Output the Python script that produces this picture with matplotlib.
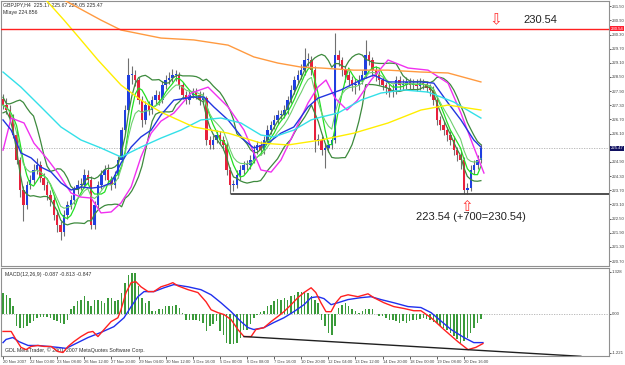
import numpy as np
import pandas as pd
import matplotlib
matplotlib.use("Agg")
import matplotlib.pyplot as plt
import matplotlib.transforms as mtransforms

plt.rcParams['font.family'] = ['Liberation Sans', 'DejaVu Sans']

# ---- candles (GBPJPY H4), one value per bar ----
opens = [227.55, 227.31, 227.10, 226.76, 226.04, 224.98, 223.71, 223.07, 223.92, 224.13,
         224.56, 224.77, 224.22, 223.92, 223.50, 223.29, 222.65, 222.23, 221.93, 222.65,
         223.07, 223.29, 223.71, 223.92, 223.92, 224.35, 224.13, 222.23, 223.07, 223.92,
         224.35, 224.56, 224.13, 223.92, 224.35, 224.98, 226.25, 227.10, 228.58, 228.58,
         228.37, 227.52, 226.68, 227.31, 227.10, 227.52, 227.73, 227.52, 228.16, 228.37,
         228.46, 228.58, 228.58, 228.16, 227.73, 227.52, 227.73, 227.86, 227.73, 227.52,
         227.61, 225.83, 225.62, 225.83, 226.04, 225.83, 225.62, 224.56, 223.92, 223.92,
         224.35, 224.56, 224.77, 224.77, 224.98, 225.40, 225.62, 225.40, 225.83, 226.25,
         226.46, 226.68, 226.89, 226.89, 227.10, 227.52, 227.95, 228.37, 228.58, 228.79,
         229.22, 229.22, 228.79, 225.83, 225.83, 225.40, 225.49, 225.62, 225.83, 229.43,
         229.22, 228.79, 228.58, 228.37, 228.16, 228.16, 228.37, 228.58, 229.43, 229.22,
         228.79, 228.58, 228.37, 228.16, 228.03, 227.86, 227.95, 228.37, 228.16, 228.16,
         228.29, 228.16, 228.20, 228.12, 228.24, 228.20, 228.03, 227.95, 227.52, 226.68,
         226.46, 226.25, 226.04, 225.83, 225.40, 225.19, 224.98, 223.71, 223.79, 224.56,
         224.77, 224.98]
closes = [227.31, 227.10, 226.76, 226.04, 224.98, 223.71, 223.07, 223.92, 224.13, 224.56,
          224.77, 224.22, 223.92, 223.50, 223.29, 222.65, 222.23, 221.93, 222.65, 223.07,
          223.29, 223.71, 223.92, 223.92, 224.35, 224.13, 222.23, 223.07, 223.92, 224.35,
          224.56, 224.13, 223.92, 224.35, 224.98, 226.25, 227.10, 228.58, 228.58, 228.37,
          227.52, 226.68, 227.31, 227.10, 227.52, 227.73, 227.52, 228.16, 228.37, 228.46,
          228.58, 228.58, 228.16, 227.73, 227.52, 227.73, 227.86, 227.73, 227.52, 227.61,
          225.83, 225.62, 225.83, 226.04, 225.83, 225.62, 224.56, 223.92, 223.92, 224.35,
          224.56, 224.77, 224.77, 224.98, 225.40, 225.62, 225.40, 225.83, 226.25, 226.46,
          226.68, 226.89, 226.89, 227.10, 227.52, 227.95, 228.37, 228.58, 228.79, 229.22,
          229.22, 228.79, 225.83, 225.83, 225.40, 225.49, 225.62, 225.83, 229.43, 229.22,
          228.79, 228.58, 228.37, 228.16, 228.16, 228.37, 228.58, 229.43, 229.22, 228.79,
          228.58, 228.37, 228.16, 228.03, 227.86, 227.95, 228.37, 228.16, 228.16, 228.29,
          228.16, 228.20, 228.12, 228.24, 228.20, 228.03, 227.95, 227.52, 226.68, 226.46,
          226.25, 226.04, 225.83, 225.40, 225.19, 224.98, 223.71, 223.79, 224.56, 224.77,
          224.98, 225.49]
highs = [227.80, 227.62, 227.30, 226.95, 226.20, 225.10, 223.90, 224.10, 224.35, 224.80,
         225.05, 224.95, 224.45, 224.10, 223.70, 223.45, 222.85, 222.40, 222.85, 223.25,
         223.50, 223.90, 224.15, 224.20, 224.60, 224.55, 224.30, 223.25, 224.10, 224.55,
         224.75, 224.80, 224.30, 224.50, 225.15, 226.40, 227.30, 229.30, 228.95, 228.80,
         228.50, 227.70, 227.50, 227.50, 227.70, 227.95, 227.90, 228.35, 228.60, 228.70,
         228.85, 228.80, 228.70, 228.30, 227.90, 227.90, 228.05, 228.05, 227.90, 227.85,
         227.70, 226.00, 226.05, 226.25, 226.20, 226.00, 225.80, 224.70, 224.15, 224.55,
         224.75, 224.95, 225.00, 225.20, 225.60, 225.80, 225.80, 226.00, 226.45, 226.65,
         226.90, 227.10, 227.10, 227.30, 227.70, 228.15, 228.55, 228.80, 229.05, 229.73,
         229.50, 229.40, 228.95, 226.10, 226.00, 225.70, 225.85, 226.00, 230.36, 229.65,
         229.35, 228.95, 228.75, 228.55, 228.45, 228.60, 228.80, 230.06, 229.60, 229.35,
         228.95, 228.75, 228.50, 228.30, 228.20, 228.20, 228.55, 228.55, 228.40, 228.50,
         228.45, 228.40, 228.40, 228.45, 228.40, 228.35, 228.20, 228.10, 227.70, 226.85,
         226.65, 226.40, 226.20, 226.00, 225.55, 225.35, 225.10, 224.00, 224.75, 225.00,
         225.20, 225.67]
lows = [227.15, 226.95, 226.60, 225.90, 224.80, 223.40, 222.40, 222.90, 223.75, 223.95,
        224.40, 224.05, 223.70, 223.30, 223.05, 222.45, 221.95, 221.60, 221.75, 222.50,
        222.90, 223.10, 223.55, 223.70, 223.80, 223.95, 222.05, 222.05, 222.95, 223.75,
        224.15, 223.95, 223.70, 223.80, 224.20, 224.85, 226.10, 226.95, 228.20, 228.10,
        227.35, 226.40, 226.50, 226.90, 226.95, 227.35, 227.30, 227.40, 228.00, 228.20,
        228.30, 228.35, 228.00, 227.55, 227.35, 227.35, 227.60, 227.55, 227.30, 227.35,
        225.60, 225.45, 225.45, 225.70, 225.65, 225.40, 224.35, 223.54, 223.65, 223.80,
        224.15, 224.40, 224.55, 224.60, 224.85, 225.25, 225.20, 225.25, 225.70, 226.10,
        226.30, 226.50, 226.70, 226.75, 226.95, 227.40, 227.80, 228.20, 228.40, 228.60,
        228.95, 228.60, 225.30, 225.60, 225.20, 224.65, 225.30, 225.45, 225.70, 228.95,
        228.55, 228.30, 228.10, 227.90, 227.80, 227.95, 228.20, 228.45, 229.00, 228.55,
        228.35, 228.15, 227.95, 227.80, 227.65, 227.65, 227.80, 227.95, 227.95, 228.00,
        227.95, 228.00, 227.90, 227.95, 228.00, 227.85, 227.70, 227.30, 226.45, 226.25,
        226.05, 225.80, 225.60, 225.20, 224.95, 224.60, 223.54, 223.54, 223.65, 224.40,
        224.60, 224.85]

# ---- moving averages (bar index, price) ----
yellow_x = [0, 12.7, 18.0, 23.0, 28.0, 34.8, 40.7, 46.6, 56.3, 66.4, 76.1, 84.1, 93.8, 103.5, 113.6, 123.3, 131.3, 141.0]
yellow_y = [233.75, 231.76, 230.91, 230.07, 229.22, 228.16, 227.52, 227.01, 226.38, 226.12, 225.70, 225.62,
            225.83, 226.12, 226.55, 227.10, 227.31, 227.10]
orange_x = [0, 18.0, 28.9, 34.8, 46.6, 56.3, 66.4, 74.0, 81.1, 87.9, 93.8, 103.5, 113.6, 123.3, 131.3, 141.0]
orange_y = [233.67, 231.76, 230.91, 230.49, 230.15, 230.07, 229.85, 229.35, 229.09, 228.92, 228.88, 228.79,
            228.79, 228.71, 228.67, 228.29]
cyan_x = [0, 5.3, 11.2, 17.1, 23.0, 28.9, 34.8, 40.7, 46.6, 52.5, 58.4, 64.3, 70.2, 76.1, 79.9, 85.8, 90.9,
          93.8, 98.8, 105.6, 111.5, 118.3, 125.4, 133.0, 141.0]
cyan_y = [228.71, 228.07, 227.23, 226.38, 225.83, 225.49, 225.11, 225.53, 225.91, 226.25, 226.68, 226.76,
          226.55, 226.04, 225.96, 226.25, 226.68, 226.80, 226.97, 227.52, 227.82, 227.95, 227.86, 227.44, 226.76]
blue_x = [0, 2.4, 5.3, 8.3, 11.2, 14.2, 17.1, 20.1, 23.0, 26.0, 28.9, 31.9, 34.8, 37.8, 40.7, 43.7, 46.6,
          50.4, 56.3, 59.3, 62.2, 66.4, 71.1, 74.0, 78.2, 82.0, 85.8, 90.0, 92.9, 99.7, 105.6, 109.4, 113.6,
          117.4, 123.3, 127.1, 131.3, 135.1, 138.9, 141.0]
blue_y = [226.68, 226.25, 225.28, 225.07, 224.68, 224.47, 224.01, 223.71, 223.84, 223.79, 223.84, 224.01,
          224.85, 225.53, 225.96, 226.25, 226.89, 227.52, 227.65, 227.65, 227.23, 226.68, 225.83, 225.49,
          225.70, 226.12, 226.38, 227.23, 227.60, 227.95, 228.37, 228.58, 228.29, 228.29, 228.29, 228.24,
          227.40, 226.68, 225.83, 225.53]
magenta_x = [0, 2.4, 6.2, 9.1, 13.3, 16.2, 20.1, 23.0, 26.0, 28.9, 31.9, 34.8, 37.8, 40.7, 43.7, 46.6, 50.4,
             55.5, 60.5, 66.4, 71.1, 74.0, 76.1, 79.1, 82.0, 85.8, 90.0, 92.9, 95.3, 98.0, 101.5, 104.5,
             108.6, 113.6, 119.5, 125.4, 131.3, 135.1, 138.9, 141.9]
magenta_y = [225.40, 226.76, 226.55, 225.70, 224.98, 224.43, 223.58, 223.41, 223.37, 222.74, 222.78, 223.16,
             223.84, 225.11, 226.12, 226.63, 226.97, 227.82, 228.07, 227.23, 226.25, 225.28, 224.56, 224.47,
             224.98, 226.12, 227.40, 228.07, 228.37, 227.60, 227.10, 227.50, 228.37, 229.22, 228.88, 228.79,
             228.24, 226.97, 225.53, 224.43]

# ---- MACD panel ----
macd_hist = [0.66, 0.60, 0.50, 0.24, -0.39, -0.44, -0.44, -0.39, -0.28, -0.23,
             -0.13, -0.09, -0.09, -0.09, -0.13, -0.18, -0.23, -0.28, -0.33, -0.18,
             0.14, 0.24, 0.40, 0.45, 0.55, 0.40, 0.24, 0.45, 0.45, 0.40,
             0.34, 0.50, 0.50, 0.40, 0.45, 0.66, 0.97, 1.23, 1.28, 1.28,
             0.86, 0.50, 0.34, 0.40, 0.08, 0.08, 0.14, 0.14, 0.24, 0.24,
             0.24, 0.29, 0.19, 0.03, -0.18, -0.18, -0.18, -0.18, -0.23,
             -0.28, -0.54, -0.39, -0.33, -0.23, -0.54, -0.65, -0.90, -0.95, -0.95,
             -0.90, -0.75, -0.49, -0.49, -0.33, -0.13, -0.02, 0.05, 0.08, 0.24,
             0.29, 0.40, 0.47, 0.45, 0.50, 0.45, 0.55, 0.60, 0.69, 0.69,
             0.69, 0.66, 0.55, 0.45, 0.34, -0.18, -0.39, -0.59, -0.65, -0.39,
             0.19, 0.29, 0.34, 0.24, 0.14, 0.08, 0.03, 0.08, 0.14, 0.14,
             0.14, 0.00, -0.05, -0.05, -0.13, -0.18, -0.18, -0.23, -0.28, -0.23,
             -0.28, -0.23, -0.18, -0.18, -0.16, -0.13,
             -0.15, -0.20, -0.25, -0.30, -0.38, -0.45, -0.50, -0.60, -0.70, -0.80,
             -0.90, -0.85, -0.75, -0.60, -0.45, -0.30, -0.15]
macd_red_x = [0, 2.4, 3.8, 5.3, 6.8, 8.3, 10.3, 12.1, 14.2, 16.2, 17.7, 19.2, 20.9, 23.0, 25.1, 26.5, 28.0,
              29.8, 31.9, 33.9, 34.8, 36.3, 37.8, 39.2, 40.7, 42.8, 44.5, 46.6, 48.7, 50.1, 51.6, 54.6, 57.5,
              59.9, 61.4, 63.4, 65.2, 67.3, 69.3, 71.1, 73.2, 74.6, 77.0, 79.1, 81.1, 82.9, 85.0, 87.0, 88.8,
              90.9, 92.3, 93.8, 95.3, 96.8, 98.2, 99.7, 101.8, 104.7, 107.7, 109.4, 112.4, 115.3, 118.3, 121.2,
              123.3, 126.3, 130.1, 134.2, 137.2, 139.5, 141.6]
macd_red_y = [-0.55, -0.55, -0.80, -1.05, -1.12, -1.02, -0.99, -1.02, -1.02, -1.18, -1.21, -1.02, -0.87,
              -0.71, -0.58, -0.55, -0.71, -0.49, -0.24, -0.12, 0.13, 0.67, 0.98, 1.01, 0.85, 0.70, 0.70, 0.85,
              0.92, 0.98, 0.88, 0.76, 0.67, 0.38, 0.13, 0.04, -0.02, -0.18, -0.49, -0.71, -0.71, -0.49, -0.43,
              -0.24, -0.08, 0.07, 0.29, 0.51, 0.67, 0.82, 0.67, 0.35, 0.07, 0.07, 0.35, 0.54, 0.60, 0.54, 0.63,
              0.51, 0.35, 0.23, 0.17, 0.10, 0.10, -0.12, -0.49, -0.87, -1.12, -1.05, -0.93]
macd_blue_x = [0, 0.9, 2.9, 4.7, 7.4, 10.3, 13.3, 16.2, 18.6, 20.9, 25.1, 28.9, 32.7, 35.7, 37.8, 39.8, 41.6,
               44.5, 47.5, 50.4, 54.6, 58.4, 61.4, 64.3, 67.3, 70.2, 72.3, 74.0, 77.0, 79.9, 82.9, 85.8, 88.8,
               90.9, 92.9, 94.7, 96.8, 98.8, 101.8, 105.6, 108.6, 111.5, 115.3, 119.5, 123.3, 126.3, 132.2,
               136.0, 138.9, 141.6]
macd_blue_y = [-0.90, -0.80, -0.74, -0.87, -0.99, -0.99, -1.02, -1.05, -1.08, -0.96, -0.74, -0.58, -0.40,
               -0.12, 0.23, 0.54, 0.70, 0.70, 0.82, 0.92, 0.85, 0.76, 0.60, 0.35, 0.07, -0.24, -0.43, -0.49,
               -0.43, -0.27, -0.12, 0.07, 0.29, 0.51, 0.54, 0.48, 0.29, 0.35, 0.45, 0.51, 0.54, 0.45, 0.35,
               0.23, 0.20, 0.04, -0.49, -0.74, -0.90, -0.90]

date_labels = ["20 Nov 2007", "22 Nov 00:00", "23 Nov 08:00", "26 Nov 12:00", "27 Nov 20:00",
               "29 Nov 04:00", "30 Nov 12:00", "3 Dec 16:00", "5 Dec 00:00", "6 Dec 08:00",
               "7 Dec 16:00", "10 Dec 20:00", "12 Dec 04:00", "13 Dec 12:00", "14 Dec 20:00",
               "18 Dec 00:00", "19 Dec 08:00", "20 Dec 16:00"]
price_ticks = [231.50, 230.90, 230.30, 229.70, 229.10, 228.50, 227.90, 227.30, 226.70, 226.10,
               225.50, 224.90, 224.30, 223.70, 223.10, 222.50, 221.90, 221.30, 220.70]

level_high = 230.54
level_low = 223.54
last_price = 225.47

W, H = 625, 365
fig = plt.figure(figsize=(W / 100, H / 100), dpi=100)
fig.patch.set_facecolor('white')


def px_axes(left, top, right, bottom):
    return fig.add_axes([left / W, 1 - bottom / H, (right - left) / W, (bottom - top) / H])


ax = px_axes(1, 1, 609, 266)
ax2 = px_axes(1, 268, 609, 356)

n = len(closes)
x = np.arange(n)
o = np.array(opens)
c = np.array(closes)
xlim = (-0.6, 178.8)

# candles
ax.vlines(x, lows, highs, color='#707070', lw=0.8, zorder=3)
up = c >= o
body_lo = np.minimum(o, c)
body_h = np.maximum(np.abs(c - o), 0.03)
ax.bar(x[up], body_h[up], bottom=body_lo[up], width=0.72, color='#1f3fe0', zorder=4, lw=0)
ax.bar(x[~up], body_h[~up], bottom=body_lo[~up], width=0.72, color='#e8203c', zorder=4, lw=0)

# moving averages
s = pd.Series(closes)
mid = s.rolling(10, min_periods=1).mean()
sd = s.rolling(10, min_periods=2).std().fillna(0.3)
ax.plot(x, mid + 1.1 * sd, color='#3d8a3d', lw=0.9, zorder=5)
ax.plot(x, mid - 1.1 * sd, color='#3d8a3d', lw=0.9, zorder=5)
ax.plot(x, s.rolling(5, min_periods=1).mean(), color='#22e022', lw=0.9, zorder=5)
ax.plot(x, s.ewm(span=8).mean(), color='#6fcf6f', lw=0.8, zorder=5)
ax.plot(magenta_x, magenta_y, color='#f030f0', lw=1.0, zorder=5)
ax.plot(blue_x, blue_y, color='#2236e0', lw=1.0, zorder=5)
ax.plot(cyan_x, cyan_y, color='#33e0e8', lw=1.0, zorder=5)
ax.plot(yellow_x, yellow_y, color='#ffee00', lw=1.0, zorder=5)
ax.plot(orange_x, orange_y, color='#ff9a40', lw=1.0, zorder=5)

# levels
ax.axhline(level_high, color='#ff2020', lw=1.0, zorder=6)
ax.axhline(last_price, color='#b0b0b0', lw=0.6, ls=(0, (1.5, 1.5)), zorder=2)
ax.hlines(level_low, 67.4, xlim[1], color='#404040', lw=1.3, zorder=6)

ax.text(145.4, 230.91, '\u21e9', color='#ff3030', fontsize=11, ha='center', va='center', zorder=7,
        family='DejaVu Sans')
ax.text(153.7, 230.93, '230.54', color='#222222', fontsize=8, ha='left', va='center', zorder=7)
ax.text(136.9, 223.03, '\u21e7', color='#ff3030', fontsize=11, ha='center', va='center', zorder=7,
        family='DejaVu Sans')
ax.text(121.8, 222.56, '223.54 (+700=230.54)', color='#222222', fontsize=8, ha='left', va='center', zorder=7)

ax.text(0.004, 0.995, 'GBPJPY,H4  225.17 225.67 225.05 225.47', transform=ax.transAxes,
        fontsize=3.8, ha='left', va='top', color='#303030')
ax.text(0.004, 0.965, 'Mlaye 224.856', transform=ax.transAxes,
        fontsize=3.8, ha='left', va='top', color='#303030')

ax.set_xlim(*xlim)
ax.set_ylim(220.49, 231.72)
ax.yaxis.tick_right()
ax.set_yticks(price_ticks)
ax.set_yticklabels(['' if abs(v - last_price) < 0.1 else f'{v:.2f}' for v in price_ticks])
ax.tick_params(axis='y', direction='out', length=1.5, width=0.6, pad=0.6, labelsize=3.1,
               colors='#404040')
ax.set_xticks([])

trans = mtransforms.blended_transform_factory(ax.transAxes, ax.transData)
ax.text(1.003, level_high, f'{level_high:.2f}', transform=trans, fontsize=3.1, color='white',
        ha='left', va='center', clip_on=False, zorder=8,
        bbox=dict(boxstyle='square,pad=0.1', fc='#ff2030', ec='none'))
ax.text(1.003, last_price, f'{last_price:.2f}', transform=trans, fontsize=3.1, color='white',
        ha='left', va='center', clip_on=False, zorder=8,
        bbox=dict(boxstyle='square,pad=0.1', fc='#101060', ec='none'))

# ---- MACD ----
ax2.bar(x, macd_hist, width=0.45, color='#3a9a3a', lw=0, zorder=3)
ax2.axhline(0, color='#b0b0b0', lw=0.6, ls=(0, (1.5, 1.5)), zorder=2)
ax2.plot(macd_blue_x, macd_blue_y, color='#2030ee', lw=1.0, zorder=4)
ax2.plot(macd_red_x, macd_red_y, color='#ff2020', lw=1.0, zorder=4)
ax2.plot([71.1, 170.5], [-0.71, -1.33], color='#202020', lw=1.0, zorder=5)

ax2.text(0.006, 0.96, 'MACD(12,26,9) -0.087 -0.813 -0.847', transform=ax2.transAxes,
         fontsize=3.8, ha='left', va='top', color='#303030')
ax2.text(0.006, 0.03, 'GDL MetaTrader, \u00a9 2001-2007 MetaQuotes Software Corp.',
         transform=ax2.transAxes, fontsize=3.8, ha='left', va='bottom', color='#303030')

ax2.set_xlim(*xlim)
ax2.set_ylim(-1.32, 1.44)
ax2.yaxis.tick_right()
ax2.set_yticks([1.328, 0.0, -1.221])
ax2.set_yticklabels(['1.328', '0.00', '-1.221'])
ax2.tick_params(axis='y', direction='out', length=1.5, width=0.6, pad=0.6, labelsize=3.1,
                colors='#404040')
ax2.set_xticks(np.arange(0, 8 * len(date_labels), 8))
ax2.set_xticklabels(date_labels)
ax2.tick_params(axis='x', direction='out', length=2.5, width=0.6, pad=0.3, labelsize=3.0,
                colors='#404040')
for lbl in ax2.get_xticklabels():
    lbl.set_ha('left')

for a in (ax, ax2):
    a.set_facecolor('white')
    for sp in a.spines.values():
        sp.set_color('#909090')
        sp.set_linewidth(0.8)

fig.savefig('out.png', dpi=100, facecolor='white')
